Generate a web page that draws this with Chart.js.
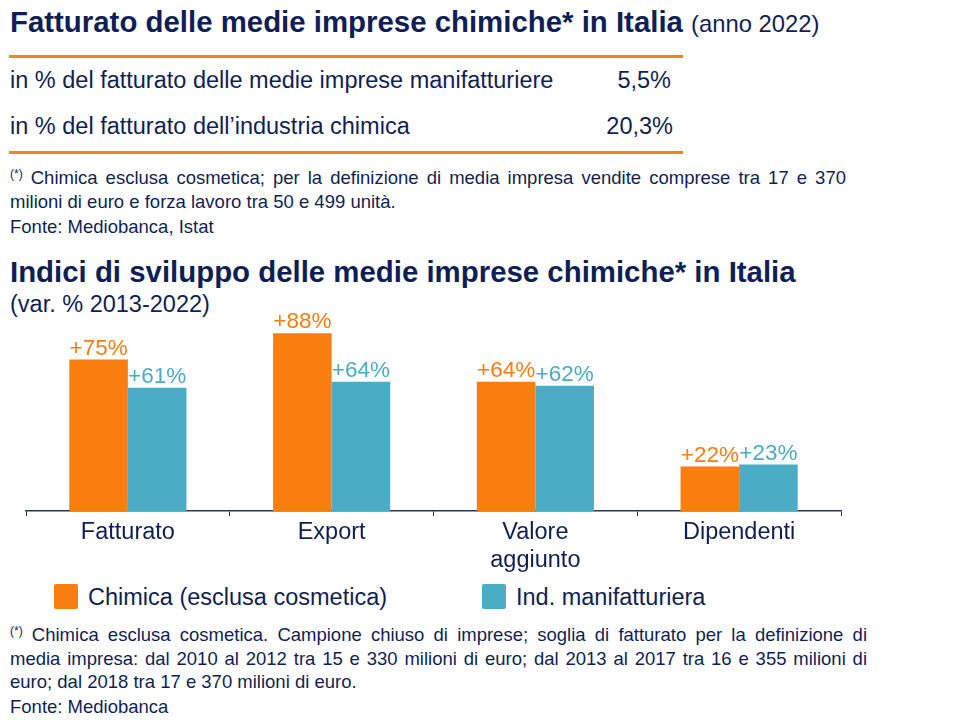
<!DOCTYPE html>
<html>
<head>
<meta charset="utf-8">
<script src="https://cdn.jsdelivr.net/npm/chart.js@4.4.0/dist/chart.umd.min.js"></script>
<style>
  body { margin: 0; width: 960px; height: 720px; background: #fff; position: relative; overflow: hidden;
         font-family: "Liberation Sans", Arial, sans-serif; color: #0f1f55; }
  .abs { position: absolute; white-space: nowrap; line-height: 1; }
  .title { font-size: 29.4px; font-weight: bold; }
  .title span { font-weight: normal; font-size: 23.8px; }
  .row { font-size: 23.5px; }
  .rule { position: absolute; left: 9px; width: 674px; height: 3px; background: #f0861e; }
  .note { font-size: 18.5px; line-height: 24px; white-space: nowrap; }
  .note .j { display: block; text-align: justify; text-align-last: justify; }
  .note sup { font-size: 12px; vertical-align: 6px; }
  .swatch { position: absolute; width: 24px; height: 25px; border-radius: 2px; }
  #chartBox { position: absolute; left: 0; top: 300px; width: 960px; height: 277px; }
</style>
</head>
<body>
<div class="abs title" style="left:10px; top:7px;">Fatturato delle medie imprese chimiche* in Italia <span>(anno 2022)</span></div>
<div class="rule" style="top:55px;"></div>
<div class="abs row" style="left:10px; top:69px;">in % del fatturato delle medie imprese manifatturiere</div>
<div class="abs row" style="right:289px; top:69px;">5,5%</div>
<div class="abs row" style="left:10px; top:115px;">in % del fatturato dell’industria chimica</div>
<div class="abs row" style="right:287px; top:115px;">20,3%</div>
<div class="rule" style="top:151px;"></div>
<div class="abs note" style="left:10px; top:162px; width:836px;">
  <span class="j"><sup>(*)</sup> Chimica esclusa cosmetica; per la definizione di media impresa vendite comprese tra 17 e 370</span>
  <span>milioni di euro e forza lavoro tra 50 e 499 unità.</span>
</div>
<div class="abs note" style="left:10px; top:215px;">Fonte: Mediobanca, Istat</div>

<div class="abs title" style="left:10px; top:257px;">Indici di sviluppo delle medie imprese chimiche* in Italia</div>
<div class="abs row" style="left:10px; top:293px;">(var. % 2013-2022)</div>

<div id="chartBox"><canvas id="myChart"></canvas></div>

<div class="swatch" style="left:54px; top:584px; background:#fa7d10;"></div>
<div class="abs row" style="left:88px; top:586px;">Chimica (esclusa cosmetica)</div>
<div class="swatch" style="left:482px; top:584px; background:#4bacc6;"></div>
<div class="abs row" style="left:516px; top:586px;">Ind. manifatturiera</div>

<div class="abs note" style="left:10px; top:620px; width:857px; line-height:23.5px;">
  <span class="j"><sup>(*)</sup> Chimica esclusa cosmetica. Campione chiuso di imprese; soglia di fatturato per la definizione di</span>
  <span class="j">media impresa: dal 2010 al 2012 tra 15 e 330 milioni di euro; dal 2013 al 2017 tra 16 e 355 milioni di</span>
  <span>euro; dal 2018 tra 17 e 370 milioni di euro.</span>
</div>
<div class="abs note" style="left:10px; top:695px;">Fonte: Mediobanca</div>

<script>
const categories = [["Fatturato"], ["Export"], ["Valore", "aggiunto"], ["Dipendenti"]];
const chimica = [75, 88, 64, 22];
const manifatturiera = [61, 64, 62, 23];
const seriesNames = ["Chimica (esclusa cosmetica)", "Ind. manifatturiera"];

const orange = "#fa7d10";
const teal = "#4bacc6";

// labels "+75%" above each bar, same colour as the bar
const barLabels = {
  id: "barLabels",
  afterDatasetsDraw(chart) {
    const ctx = chart.ctx;
    ctx.save();
    ctx.font = '22.5px "Liberation Sans", Arial, sans-serif';
    ctx.textAlign = "center";
    ctx.textBaseline = "alphabetic";
    chart.data.datasets.forEach((ds, i) => {
      const meta = chart.getDatasetMeta(i);
      ctx.fillStyle = ds.backgroundColor;
      meta.data.forEach((bar, j) => {
        ctx.fillText("+" + ds.data[j] + "%", bar.x, bar.y - 5);
      });
    });
    ctx.restore();
  },
};

new Chart(document.getElementById("myChart"), {
  type: "bar",
  data: {
    labels: categories,
    datasets: [
      { label: seriesNames[0], data: chimica, backgroundColor: orange },
      { label: seriesNames[1], data: manifatturiera, backgroundColor: teal },
    ],
  },
  options: {
    responsive: true,
    maintainAspectRatio: false,
    animation: false,
    categoryPercentage: 0.575,
    barPercentage: 1,
    layout: { padding: { left: 26, right: 119, top: 9, bottom: 0 } },
    plugins: { legend: { display: false }, tooltip: { enabled: false } },
    scales: {
      y: { display: false, min: 0, max: 100 },
      x: {
        border: { display: true, color: "#2a3550", width: 1.5 },
        grid: { drawOnChartArea: false, tickLength: 5, color: "#2a3550", offset: true },
        ticks: {
          color: "#0f1f55",
          font: { family: '"Liberation Sans", Arial, sans-serif', size: 23.5, lineHeight: 1.17 },
          padding: 3,
          maxRotation: 0,
        },
      },
    },
  },
  plugins: [barLabels],
});
</script>
</body>
</html>
